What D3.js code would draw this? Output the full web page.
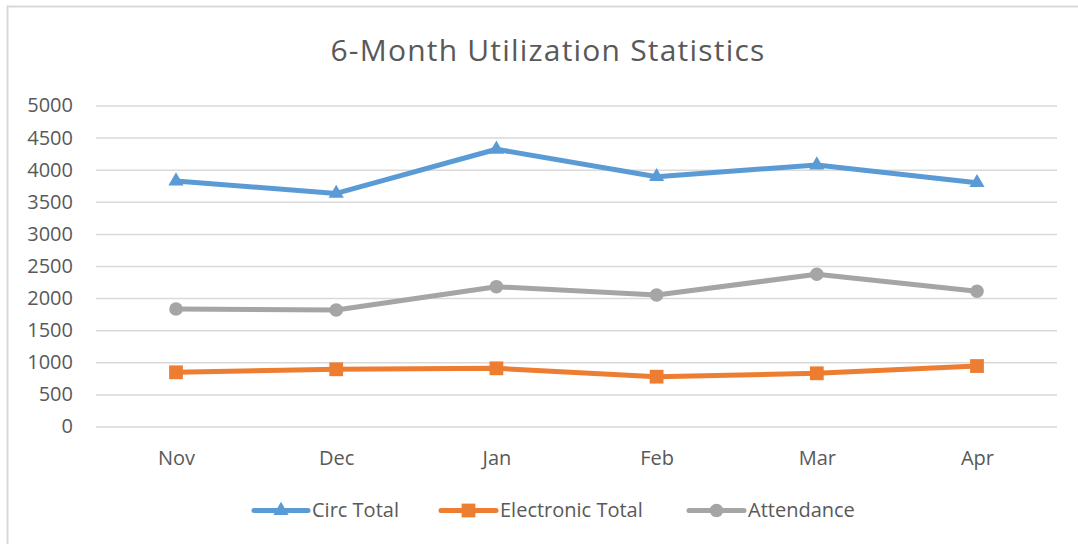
<!DOCTYPE html>
<html><head><meta charset="utf-8">
<script src="https://cdn.jsdelivr.net/npm/d3@7"></script>
<style>body{margin:0;background:#fff}svg{display:block}text{font-family:"Open Sans",sans-serif;fill:#595959}</style>
</head><body><svg id="c" width="1078" height="544"></svg>
<script>
const months = ["Nov","Dec","Jan","Feb","Mar","Apr"];
const circTotal = [3824, 3630, 4318, 3891, 4073, 3798];
const electronicTotal = [844, 891, 906, 776, 829, 942];
const attendance = [1830, 1815, 2178, 2048, 2371, 2106];
const yTicks = [0,500,1000,1500,2000,2500,3000,3500,4000,4500,5000];
const seriesNames = ["Circ Total","Electronic Total","Attendance"];

const series = [
  {name: seriesNames[0], values: circTotal, color: "#5B9BD5", marker: "triangle"},
  {name: seriesNames[1], values: electronicTotal, color: "#ED7D31", marker: "square"},
  {name: seriesNames[2], values: attendance, color: "#A5A5A5", marker: "circle"}
];

const svg = d3.select("#c");
svg.append("rect").attr("x",0).attr("y",0).attr("width",1078).attr("height",544).attr("fill","#fff");
svg.append("rect").attr("x",7.5).attr("y",6.5).attr("width",1080).attr("height",550)
  .attr("fill","none").attr("stroke","#D9D9D9").attr("stroke-width",2);

const x = d3.scalePoint().domain(months).range([176, 977]);
const y = d3.scaleLinear().domain([0,5000]).range([426.5, 105.5]);

svg.append("text").attr("x",548).attr("y",61).attr("text-anchor","middle")
  .style("font-size","30px").style("letter-spacing","1.2px").text("6-Month Utilization Statistics");

const yAxis = d3.axisLeft(y).tickValues(yTicks).tickFormat(d3.format("d")).tickSize(-961).tickPadding(8);
const gy = svg.append("g").attr("transform","translate(96,0)").call(yAxis);
gy.select(".domain").remove();
gy.selectAll("line").attr("stroke","#D9D9D9").attr("stroke-width",1.5);
gy.selectAll("text").style("font-size","20px").attr("fill","#595959").attr("x",-23);

const xAxis = d3.axisBottom(x).tickSize(0).tickPadding(0);
const gx = svg.append("g").attr("transform","translate(0,426.5)").call(xAxis);
gx.select(".domain").remove();
gx.selectAll("text").style("font-size","20px").attr("fill","#595959").attr("dy",null).attr("y",38.5);

const symType = {triangle: d3.symbolTriangle, square: d3.symbolSquare, circle: d3.symbolCircle};
const symSize = {triangle: 100, square: 190, circle: 145};
const line = d3.line().x((d,i)=>x(months[i])).y(d=>y(d));

series.forEach(s => {
  svg.append("path").datum(s.values).attr("d", line).attr("fill","none")
    .attr("stroke", s.color).attr("stroke-width",5).attr("stroke-linejoin","round").attr("stroke-linecap","round");
  svg.selectAll(null).data(s.values).enter().append("path")
    .attr("transform",(d,i)=>`translate(${x(months[i])},${y(d)})`)
    .attr("d", d3.symbol().type(symType[s.marker]).size(symSize[s.marker])())
    .attr("fill", s.color);
});

const legendPos = [{x1:254,x2:308,tx:312},{x1:441,x2:496,tx:500},{x1:689,x2:744,tx:748}];
series.forEach((s,i) => {
  const p = legendPos[i], ly = 510.5;
  svg.append("line").attr("x1",p.x1).attr("x2",p.x2).attr("y1",ly).attr("y2",ly)
    .attr("stroke",s.color).attr("stroke-width",5).attr("stroke-linecap","round");
  svg.append("path").attr("transform",`translate(${(p.x1+p.x2)/2},${ly})`)
    .attr("d", d3.symbol().type(symType[s.marker]).size(symSize[s.marker])()).attr("fill",s.color);
  svg.append("text").attr("x",p.tx).attr("y",517).style("font-size","20px").text(s.name);
});
</script></body></html>
